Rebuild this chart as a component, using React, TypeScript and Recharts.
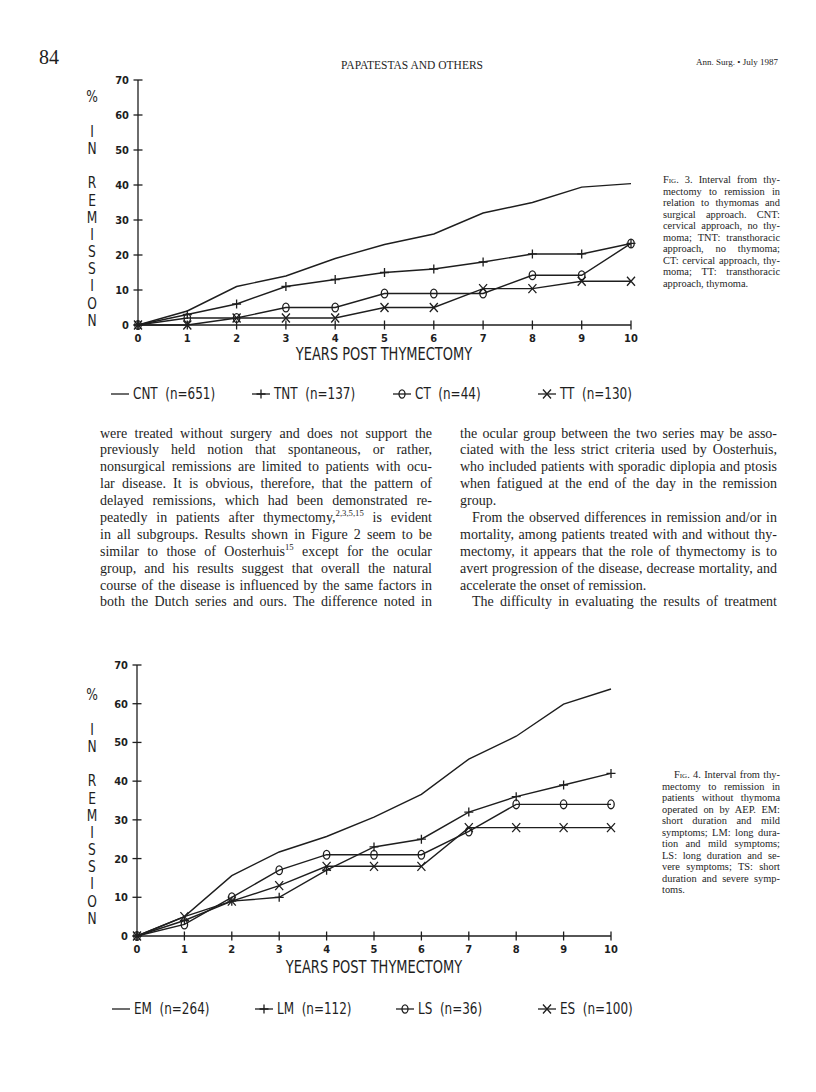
import React from 'react';
import { LineChart, Line, XAxis, YAxis } from 'recharts';

const INK = '#1e1e1e';
const PLOT = '"DejaVu Sans Condensed", "DejaVu Sans", sans-serif';
const SERIF = '"Liberation Serif", "Times New Roman", serif';

const years = [0, 1, 2, 3, 4, 5, 6, 7, 8, 9, 10];
const yTicks = [0, 10, 20, 30, 40, 50, 60, 70];

// Fig. 3
const fig3Keys = ['CNT', 'TNT', 'CT', 'TT'];
const fig3N = [651, 137, 44, 130];
const cnt = [0, 4, 11, 14, 19, 23, 26, 32, 35, 39.4, 40.4];
const tnt = [0, 3, 6, 11, 13, 15, 16, 18, 20.3, 20.3, 23.3];
const ct = [0, 2, 2, 5, 5, 9, 9, 9, 14.2, 14.2, 23.3];
const tt = [0, 0, 2, 2, 2, 5, 5, 10.4, 10.4, 12.5, 12.5];

// Fig. 4
const fig4Keys = ['EM', 'LM', 'LS', 'ES'];
const fig4N = [264, 112, 36, 100];
const em = [0, 5, 15.6, 21.7, 25.7, 30.7, 36.6, 45.7, 51.6, 59.9, 63.8];
const lm = [0, 4, 9, 10, 17, 23, 25, 32, 36, 39, 42];
const ls = [0, 3, 10, 17, 21, 21, 21, 27, 34, 34, 34];
const es = [0, 5, 9, 13, 18, 18, 18, 28, 28, 28, 28];

const yLabelLines = ['%', '', 'I', 'N', '', 'R', 'E', 'M', 'I', 'S', 'S', 'I', 'O', 'N'];
const xTitle = 'YEARS POST THYMECTOMY';

const fig3Data = years.map((y, i) => ({ year: y, CNT: cnt[i], TNT: tnt[i], CT: ct[i], TT: tt[i] }));
const fig4Data = years.map((y, i) => ({ year: y, EM: em[i], LM: lm[i], LS: ls[i], ES: es[i] }));

const header = { page: '84', running: 'PAPATESTAS AND OTHERS', journal: 'Ann. Surg. \u2022 July 1987' };

const caption3 = [
  'Interval from thy-',
  'mectomy to remission in',
  'relation to thymomas and',
  'surgical approach. CNT:',
  'cervical approach, no thy-',
  'moma; TNT: transthoracic',
  'approach, no thymoma;',
  'CT: cervical approach, thy-',
  'moma; TT: transthoracic',
  'approach, thymoma.',
];
const caption4 = [
  'Interval from thy-',
  'mectomy to remission in',
  'patients without thymoma',
  'operated on by AEP. EM:',
  'short duration and mild',
  'symptoms; LM: long dura-',
  'tion and mild symptoms;',
  'LS: long duration and se-',
  'vere symptoms; TS: short',
  'duration and severe symp-',
  'toms.',
];

const leftCol = [
  'were treated without surgery and does not support the',
  'previously held notion that spontaneous, or rather,',
  'nonsurgical remissions are limited to patients with ocu-',
  'lar disease. It is obvious, therefore, that the pattern of',
  'delayed remissions, which had been demonstrated re-',
  'peatedly in patients after thymectomy,|2,3,5,15| is evident',
  'in all subgroups. Results shown in Figure 2 seem to be',
  'similar to those of Oosterhuis|15| except for the ocular',
  'group, and his results suggest that overall the natural',
  'course of the disease is influenced by the same factors in',
  'both the Dutch series and ours. The difference noted in',
];
const rightCol = [
  'the ocular group between the two series may be asso-',
  'ciated with the less strict criteria used by Oosterhuis,',
  'who included patients with sporadic diplopia and ptosis',
  'when fatigued at the end of the day in the remission',
  '#group.',
  '>From the observed differences in remission and/or in',
  'mortality, among patients treated with and without thy-',
  'mectomy, it appears that the role of thymectomy is to',
  'avert progression of the disease, decrease mortality, and',
  '#accelerate the onset of remission.',
  '>The difficulty in evaluating the results of treatment',
];

const plusPath = (cx: number, cy: number) => `M${cx - 4.5},${cy}H${cx + 4.5}M${cx},${cy - 4.5}V${cy + 4.5}`;
const xPath = (cx: number, cy: number) => `M${cx - 4},${cy - 4.5}L${cx + 4},${cy + 4.5}M${cx + 4},${cy - 4.5}L${cx - 4},${cy + 4.5}`;

const plusDot = (p: any) => {
  const { cx, cy, index } = p;
  if (cx == null || cy == null) return <g key={`p${index}`} />;
  return <path key={`p${index}`} d={plusPath(cx, cy)} stroke={INK} strokeWidth={1.3} fill="none" />;
};
const oDot = (p: any) => {
  const { cx, cy, index } = p;
  if (cx == null || cy == null) return <g key={`o${index}`} />;
  return <ellipse key={`o${index}`} cx={cx} cy={cy} rx={3.2} ry={4.4} stroke={INK} strokeWidth={1.3} fill="none" />;
};
const xDot = (p: any) => {
  const { cx, cy, index } = p;
  if (cx == null || cy == null) return <g key={`x${index}`} />;
  return <path key={`x${index}`} d={xPath(cx, cy)} stroke={INK} strokeWidth={1.3} fill="none" />;
};
const dots = [false, plusDot, oDot, xDot] as any[];

const YTick = (props: any) => {
  const { x, y, payload } = props;
  return (
    <g>
      <line x1={x - 4.5} x2={x + 4.5} y1={y} y2={y} stroke={INK} strokeWidth={1.3} />
      <text x={x - 9} y={y + 4} textAnchor="end" fontFamily={PLOT} fontWeight="bold" fontSize={11} fill={INK}>
        {payload.value}
      </text>
    </g>
  );
};
const XTick = (props: any) => {
  const { x, y, payload } = props;
  return (
    <g>
      <line x1={x} x2={x} y1={y - 4.5} y2={y + 4.5} stroke={INK} strokeWidth={1.3} />
      <text x={x} y={y + 17} textAnchor="middle" fontFamily={PLOT} fontWeight="bold" fontSize={11} fill={INK}>
        {payload.value}
      </text>
    </g>
  );
};

function Chart(props: { data: any[]; keys: string[]; width: number; height: number; margin: any }) {
  const { data, keys, width, height, margin } = props;
  return (
    <LineChart width={width} height={height} data={data} margin={margin}>
      <XAxis
        dataKey="year"
        type="number"
        domain={[0, 10]}
        ticks={years}
        interval={0}
        height={30}
        tickSize={0}
        tickMargin={0}
        tickLine={false}
        axisLine={{ stroke: INK, strokeWidth: 1.3 }}
        tick={<XTick />}
      />
      <YAxis
        type="number"
        domain={[0, 70]}
        ticks={yTicks}
        interval={0}
        width={40}
        tickSize={0}
        tickMargin={0}
        tickLine={false}
        axisLine={{ stroke: INK, strokeWidth: 1.3 }}
        tick={<YTick />}
      />
      {keys.map((k, i) => (
        <Line
          key={k}
          dataKey={k}
          type="linear"
          stroke={INK}
          strokeWidth={1.4}
          dot={dots[i]}
          activeDot={false}
          isAnimationActive={false}
        />
      ))}
    </LineChart>
  );
}

function LegendIcon({ kind }: { kind: number }) {
  return (
    <svg width={20} height={12} style={{ display: 'block' }}>
      <line x1={1} x2={19} y1={6} y2={6} stroke={INK} strokeWidth={1.3} />
      {kind === 1 && <path d={plusPath(10, 6)} stroke={INK} strokeWidth={1.3} fill="none" />}
      {kind === 2 && <ellipse cx={10} cy={6} rx={3} ry={4.2} stroke={INK} strokeWidth={1.3} fill="none" />}
      {kind === 3 && <path d={xPath(10, 6)} stroke={INK} strokeWidth={1.3} fill="none" />}
    </svg>
  );
}

function Legend({ keys, ns, xs, cy }: { keys: string[]; ns: number[]; xs: number[]; cy: number }) {
  return (
    <>
      {keys.map((k, i) => (
        <div key={k} style={{ position: 'absolute', left: xs[i], top: cy - 9, height: 18, display: 'flex', alignItems: 'center' }}>
          <LegendIcon kind={i} />
          <span
            style={{
              marginLeft: 3,
              fontFamily: PLOT,
              fontSize: 15.5,
              whiteSpace: 'pre',
              display: 'inline-block',
              transform: 'scaleX(0.86)',
              transformOrigin: 'left center',
              color: INK,
            }}
          >
            {`${k}  (n=${ns[i]})`}
          </span>
        </div>
      ))}
    </>
  );
}

function YLabel({ cx, top }: { cx: number; top: number }) {
  return (
    <div style={{ position: 'absolute', left: cx - 10, top, width: 20, textAlign: 'center', fontFamily: PLOT, fontSize: 16, lineHeight: '17.2px', color: INK }}>
      {yLabelLines.map((l, i) => (
        <div key={i} style={{ height: 17.2, transform: 'scaleX(0.85)' }}>{l}</div>
      ))}
    </div>
  );
}

function XTitle({ cx, cy }: { cx: number; cy: number }) {
  return (
    <div
      style={{
        position: 'absolute',
        left: cx - 150,
        top: cy - 10,
        width: 300,
        height: 20,
        lineHeight: '20px',
        textAlign: 'center',
        fontFamily: PLOT,
        fontSize: 17,
        whiteSpace: 'pre',
        transform: 'scaleX(0.85)',
        color: INK,
      }}
    >
      {xTitle}
    </div>
  );
}

function renderSup(s: string) {
  const parts = s.split('|');
  return parts.map((p, i) =>
    i % 2 === 1 ? (
      <sup key={i} style={{ fontSize: '0.62em', lineHeight: 0 }}>{p}</sup>
    ) : (
      <React.Fragment key={i}>{p}</React.Fragment>
    )
  );
}

function Column({ lines, left, top, width }: { lines: string[]; left: number; top: number; width: number }) {
  return (
    <div style={{ position: 'absolute', left, top, width, fontFamily: SERIF, fontSize: 14, lineHeight: '16.9px', color: INK }}>
      {lines.map((raw, i) => {
        let s = raw;
        let last = false;
        let indent = 0;
        if (s.startsWith('#')) { last = true; s = s.slice(1); }
        if (s.startsWith('>')) { indent = 12; s = s.slice(1); }
        return (
          <div key={i} style={{ height: 16.9, paddingLeft: indent, textAlign: last ? 'left' : 'justify', textAlignLast: last ? 'left' : 'justify' }}>
            {renderSup(s)}
          </div>
        );
      })}
    </div>
  );
}

function Caption({ num, lines, left, top, width, indent }: { num: number; lines: string[]; left: number; top: number; width: number; indent: number }) {
  return (
    <div style={{ position: 'absolute', left, top, width, fontFamily: SERIF, fontSize: 10.4, lineHeight: '11.55px', color: INK }}>
      {lines.map((l, i) => {
        const last = i === lines.length - 1;
        return (
          <div key={i} style={{ height: 11.55, paddingLeft: i === 0 ? indent : 0, textAlign: last ? 'left' : 'justify', textAlignLast: last ? 'left' : 'justify' }}>
            {i === 0 && <span style={{ fontVariant: 'small-caps' }}>{`Fig. ${num}. `}</span>}
            {l}
          </div>
        );
      })}
    </div>
  );
}

export default function App() {
  return (
    <div style={{ position: 'absolute', left: 0, top: 0, width: 816, height: 1092, background: '#fff', overflow: 'hidden', color: INK }}>
      {/* header */}
      <div style={{ position: 'absolute', left: 39, top: 46, fontFamily: SERIF, fontSize: 20, lineHeight: '22px' }}>{header.page}</div>
      <div style={{ position: 'absolute', left: 262, top: 58, width: 300, textAlign: 'center', fontFamily: SERIF, fontSize: 11.5, lineHeight: '14px' }}>{header.running}</div>
      <div style={{ position: 'absolute', left: 696, top: 56, fontFamily: SERIF, fontSize: 9, lineHeight: '12px', whiteSpace: 'pre' }}>{header.journal}</div>

      {/* Fig 3 */}
      <div style={{ position: 'absolute', left: 0, top: 60 }}>
        <Chart data={fig3Data} keys={fig3Keys} width={680} height={330} margin={{ top: 20, right: 49, left: 98, bottom: 35 }} />
      </div>
      <YLabel cx={92} top={88.4} />
      <XTitle cx={384} cy={353.5} />
      <Legend keys={fig3Keys} ns={fig3N} xs={[110, 251, 392, 537]} cy={394} />
      <Caption num={3} lines={caption3} left={663} top={174} width={117} indent={0} />

      {/* body text */}
      <Column lines={leftCol} left={100} top={425.5} width={332} />
      <Column lines={rightCol} left={460} top={425.5} width={317} />

      {/* Fig 4 */}
      <div style={{ position: 'absolute', left: 0, top: 645 }}>
        <Chart data={fig4Data} keys={fig4Keys} width={660} height={330} margin={{ top: 20, right: 49, left: 97, bottom: 9 }} />
      </div>
      <YLabel cx={92} top={686.4} />
      <XTitle cx={374} cy={966.5} />
      <Legend keys={fig4Keys} ns={fig4N} xs={[111, 254, 395, 537]} cy={1009} />
      <Caption num={4} lines={caption4} left={662} top={769} width={118} indent={12} />
    </div>
  );
}
